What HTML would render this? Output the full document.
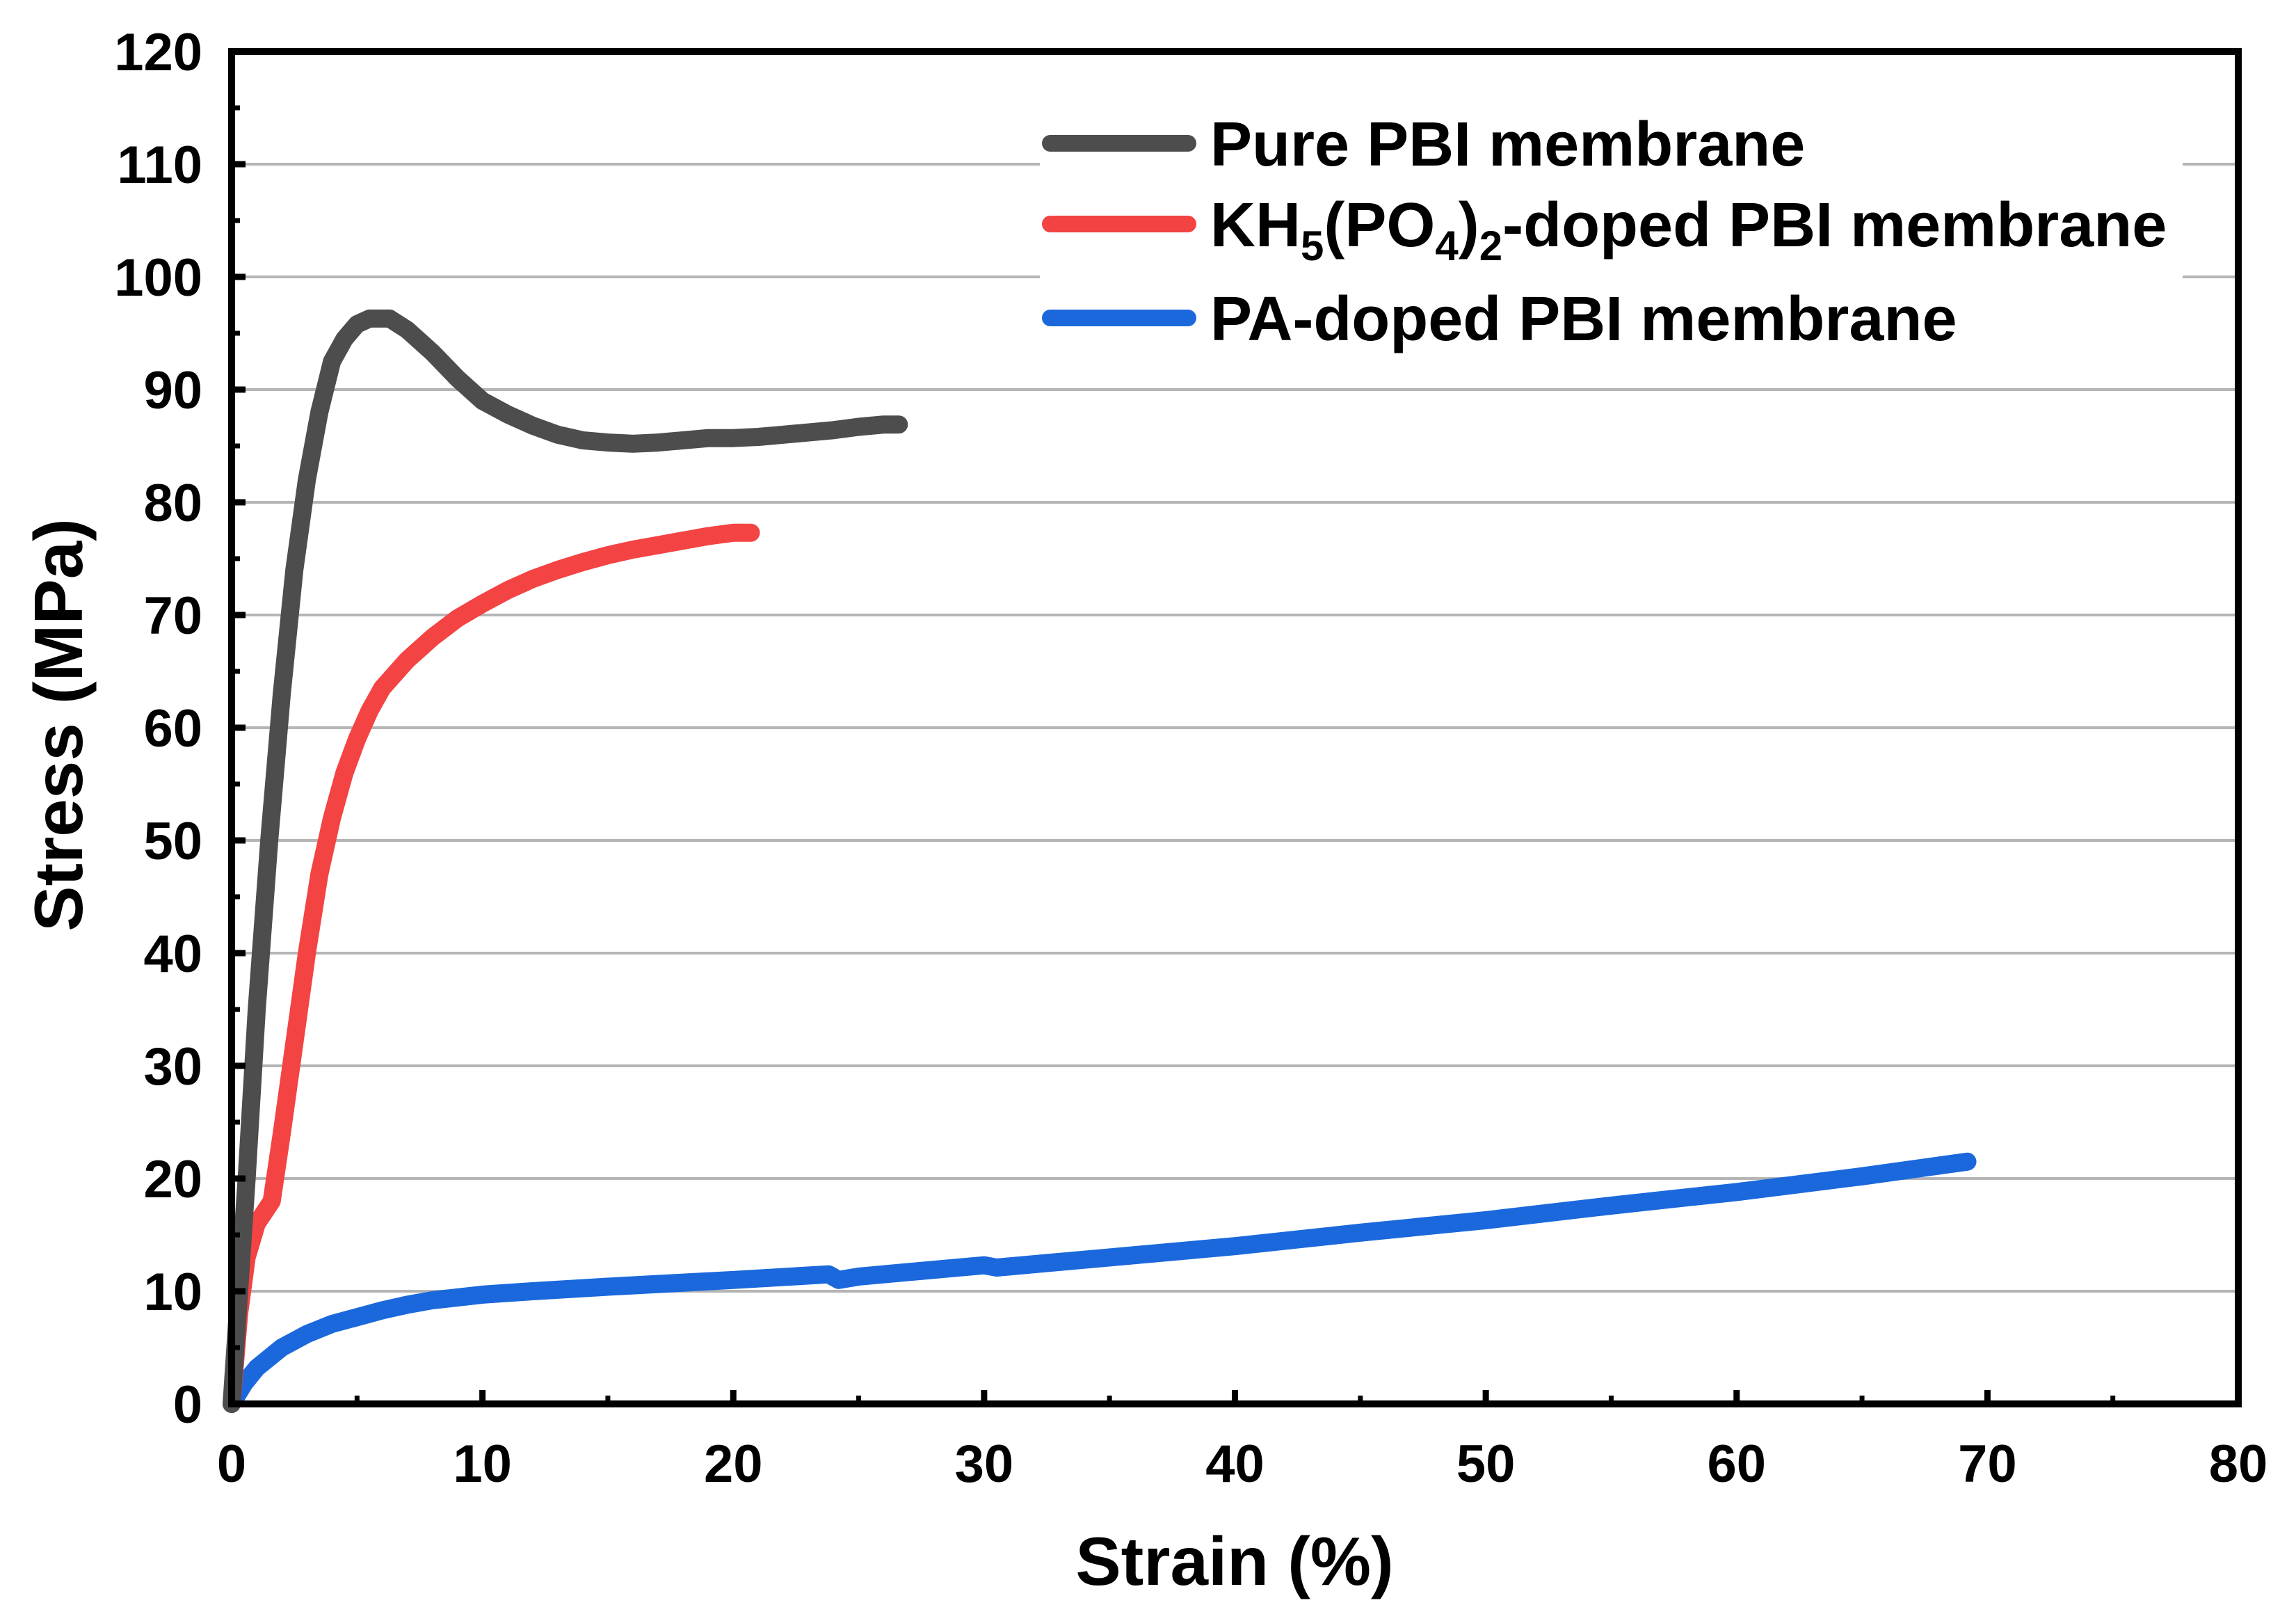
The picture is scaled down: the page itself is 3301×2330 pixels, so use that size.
<!DOCTYPE html>
<html><head><meta charset="utf-8">
<style>
html,body{margin:0;padding:0;background:#fff;}
svg{display:block;font-family:"Liberation Sans",Arial,sans-serif;font-weight:bold;}
</style></head>
<body>
<svg id="chart" width="3301" height="2330" viewBox="0 0 3301 2330" xmlns="http://www.w3.org/2000/svg">
<g id="grid"></g>
<g id="series"></g>
<g id="legend">
  <rect x="1495" y="150" width="1643" height="365" fill="#fff"/>
  <line x1="1510" y1="206" x2="1708" y2="206" stroke="#4d4d4d" stroke-width="24" stroke-linecap="round"/>
  <text x="1740" y="238" font-size="90">Pure PBI membrane</text>
  <line x1="1510" y1="322" x2="1708" y2="322" stroke="#f44343" stroke-width="24" stroke-linecap="round"/>
  <text x="1740" y="354" font-size="90">KH<tspan font-size="60" dy="20">5</tspan><tspan dy="-20">(PO</tspan><tspan font-size="60" dy="20">4</tspan><tspan dy="-20">)</tspan><tspan font-size="60" dy="20">2</tspan><tspan dy="-20">-doped PBI membrane</tspan></text>
  <line x1="1510" y1="457" x2="1708" y2="457" stroke="#1a68dc" stroke-width="24" stroke-linecap="round"/>
  <text x="1740" y="489" font-size="90">PA-doped PBI membrane</text>
</g>
<g id="axes"></g>
<text x="1775" y="2278" font-size="98" text-anchor="middle">Strain (%)</text>
<text transform="translate(118,1042) rotate(-90)" font-size="98" text-anchor="middle">Stress (MPa)</text>
</svg>
<script>
const xTicks = [0,10,20,30,40,50,60,70,80];
const yTicks = [0,10,20,30,40,50,60,70,80,90,100,110,120];
const pureX = [0,0.3,0.6,1,1.5,2,2.5,3,3.5,4,4.5,5,5.5,6.3,7,8,9,10,11,12,13,14,15,16,17,18,19,20,21,22,23,24,25,26,26.6];
const pureY = [0,10,20,35,50,63,74,82,88,92.5,94.5,95.8,96.3,96.3,95.3,93.3,91,89,87.8,86.8,86,85.5,85.3,85.2,85.3,85.5,85.7,85.7,85.8,86,86.2,86.4,86.7,86.9,86.9];
const khX = [0,0.3,0.6,1,1.6,2,2.5,3,3.5,4,4.5,5,5.5,6,7,8,9,10,11,12,13,14,15,16,17,18,19,20,20.7];
const khY = [0,8,13,16,18,24,32,40,47,52,56,59,61.5,63.5,66,68,69.7,71,72.2,73.2,74,74.7,75.3,75.8,76.2,76.6,77,77.3,77.3];
const paX = [0,0.5,1,2,3,4,5,6,7,8,10,12,15,20,23.8,24.2,25,30,30.5,35,40,45,50,55,60,65,69.2];
const paY = [0,1.8,3.2,5,6.2,7.1,7.7,8.3,8.8,9.2,9.7,10,10.4,11,11.5,11,11.3,12.3,12.1,13,14,15.2,16.3,17.6,18.8,20.2,21.5];

const L=333,R=3218,T=74,B=2018;
const sx=v=>L+(v-0)/(80-0)*(R-L);
const sy=v=>B-(v-0)/(120-0)*(B-T);
const NS="http://www.w3.org/2000/svg";
function mk(tag,attrs,parent){const e=document.createElementNS(NS,tag);for(const k in attrs)e.setAttribute(k,attrs[k]);parent.appendChild(e);return e;}
const grid=document.getElementById('grid'),axes=document.getElementById('axes'),series=document.getElementById('series');
yTicks.forEach(v=>{
  if(v>0&&v<120){const g=mk('line',{x1:L,x2:R,y1:sy(v),y2:sy(v),stroke:'#b5b5b5','stroke-width':4},grid);
  
  }
  const t=mk('line',{x1:L,x2:L+20,y1:sy(v),y2:sy(v),stroke:'#000','stroke-width':9},axes);
  
  
  if(v<120){const m=mk('line',{x1:L,x2:L+12,y1:sy(v+5),y2:sy(v+5),stroke:'#000','stroke-width':7},axes);
  
  }
  const lb=mk('text',{x:291,y:sy(v)+27,'font-size':76,'text-anchor':'end'},axes);lb.textContent=v;
  
  
});
xTicks.forEach(v=>{
  const t=mk('line',{x1:sx(v),x2:sx(v),y1:B,y2:B-20,stroke:'#000','stroke-width':9},axes);
  
  
  if(v<80){const m=mk('line',{x1:sx(v+5),x2:sx(v+5),y1:B,y2:B-12,stroke:'#000','stroke-width':7},axes);
  
  }
  const lb=mk('text',{x:sx(v),y:2130,'font-size':76,'text-anchor':'middle'},axes);lb.textContent=v;
  
  
});
const frame=mk('rect',{x:L,y:T,width:R-L,height:B-T,fill:'none',stroke:'#000','stroke-width':10},axes);


function line(xs,ys,color,name){
  const d=xs.map((x,i)=>(i?'L':'M')+sx(x).toFixed(1)+','+sy(ys[i]).toFixed(1)).join(' ');
  const p=mk('path',{d:d,fill:'none',stroke:color,'stroke-width':26,'stroke-linecap':'round','stroke-linejoin':'round'},series);
  
  
}
line(paX,paY,'#1a68dc','pa-doped-curve');
line(khX,khY,'#f44343','kh5-doped-curve');
line(pureX,pureY,'#4d4d4d','pure-pbi-curve');
</script>
</body></html>
